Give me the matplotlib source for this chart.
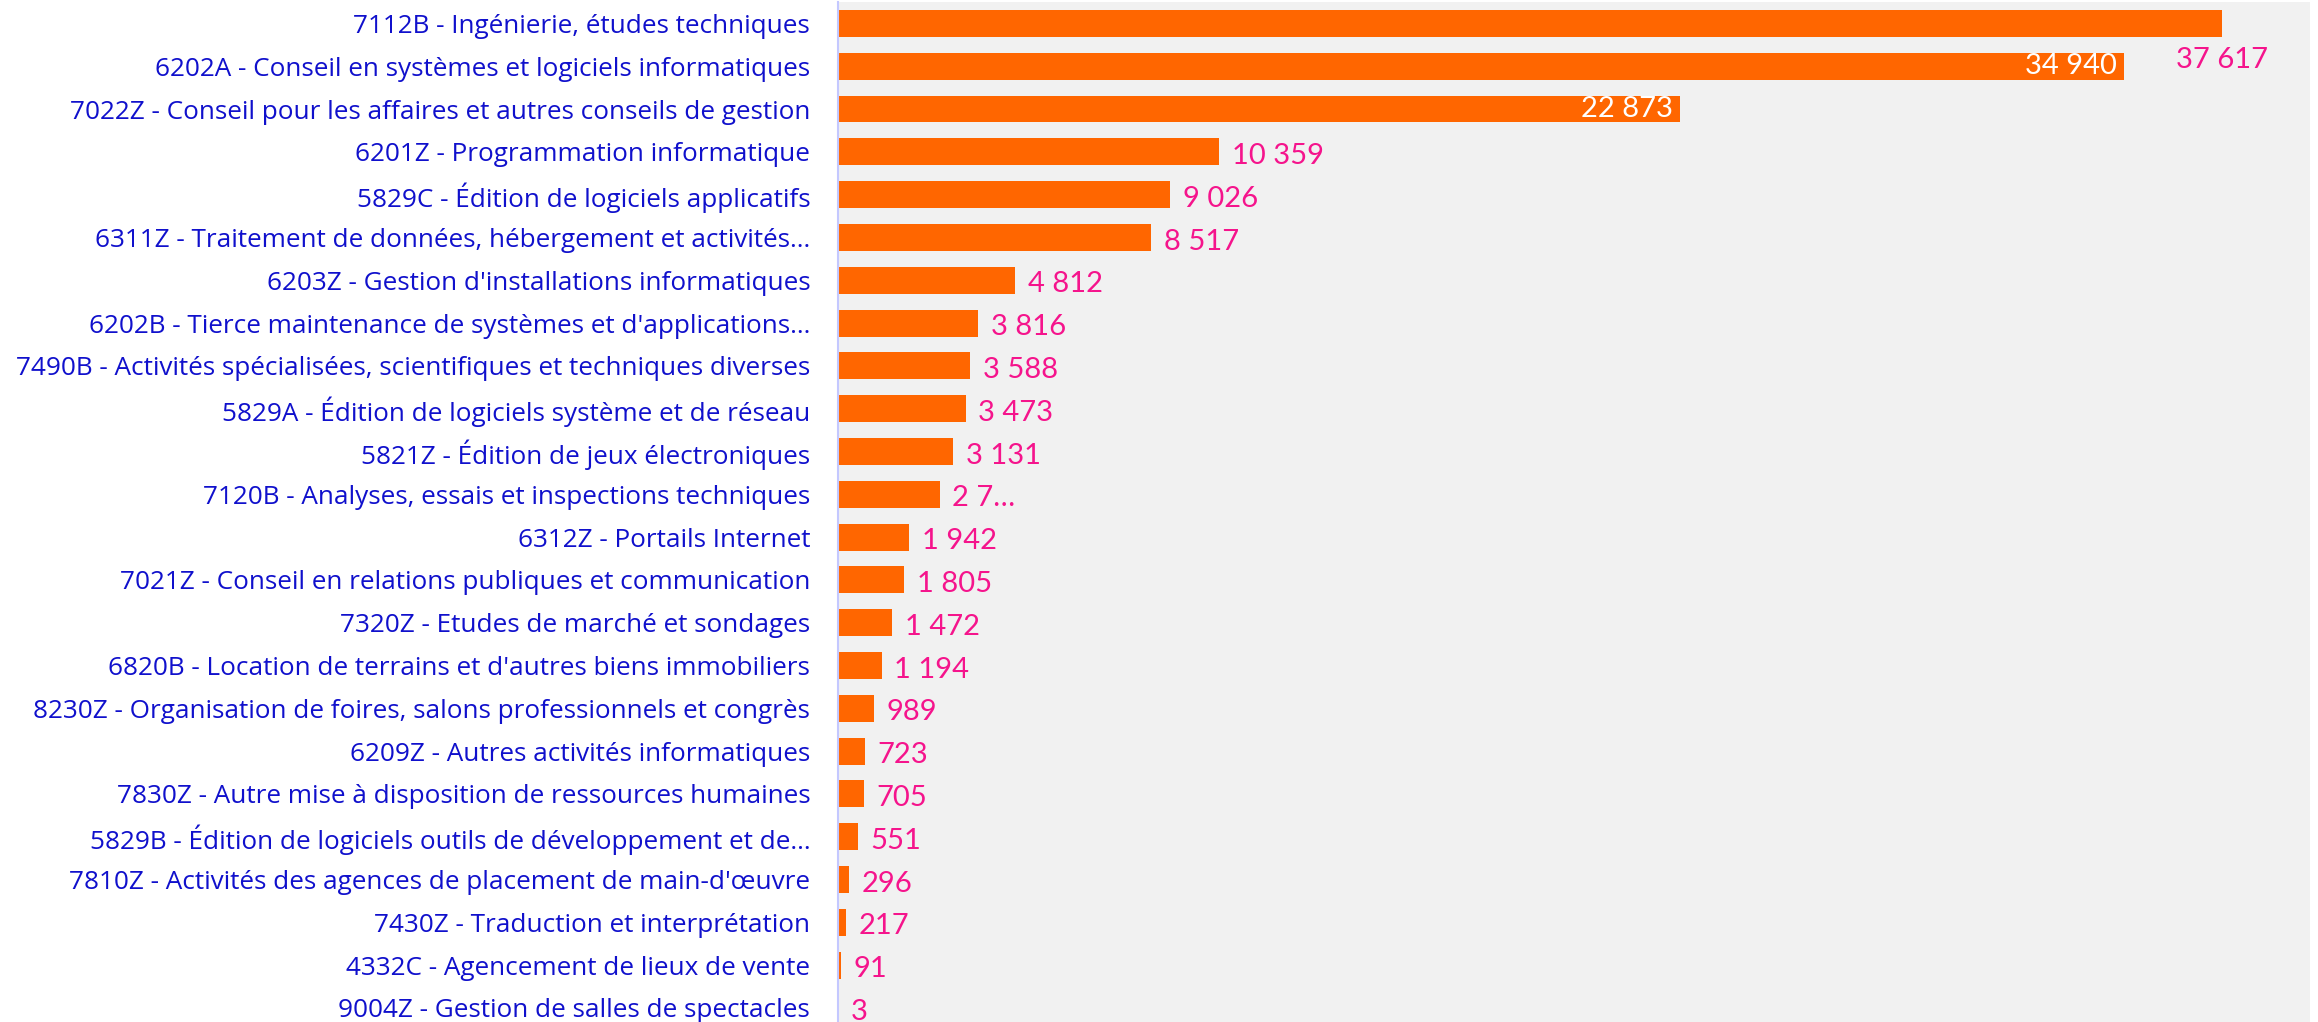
import numpy as np
import matplotlib.pyplot as plt

# NAF codes and counts, top to bottom
codes = ["7112B - Ingénierie, études techniques",
         "6202A - Conseil en systèmes et logiciels informatiques",
         "7022Z - Conseil pour les affaires et autres conseils de gestion",
         "6201Z - Programmation informatique",
         "5829C - Édition de logiciels applicatifs",
         "6311Z - Traitement de données, hébergement et activités…",
         "6203Z - Gestion d'installations informatiques",
         "6202B - Tierce maintenance de systèmes et d'applications…",
         "7490B - Activités spécialisées, scientifiques et techniques diverses",
         "5829A - Édition de logiciels système et de réseau",
         "5821Z - Édition de jeux électroniques",
         "7120B - Analyses, essais et inspections techniques",
         "6312Z - Portails Internet",
         "7021Z - Conseil en relations publiques et communication",
         "7320Z - Etudes de marché et sondages",
         "6820B - Location de terrains et d'autres biens immobiliers",
         "8230Z - Organisation de foires, salons professionnels et congrès",
         "6209Z - Autres activités informatiques",
         "7830Z - Autre mise à disposition de ressources humaines",
         "5829B - Édition de logiciels outils de développement et de…",
         "7810Z - Activités des agences de placement de main-d'œuvre",
         "7430Z - Traduction et interprétation",
         "4332C - Agencement de lieux de vente",
         "9004Z - Gestion de salles de spectacles"]
counts = [37617, 34940, 22873, 10359, 9026, 8517, 4812, 3816, 3588, 3473,
          3131, 2770, 1942, 1805, 1472, 1194, 989, 723, 705, 551, 296, 217, 91, 3]

def fmt(v):
    return f"{v:,}".replace(",", " ")

value_labels = [fmt(v) for v in counts]
value_labels[11] = "2 7…"

plt.rcParams['font.family'] = ['Lato', 'DejaVu Sans']

fig = plt.figure(figsize=(23.18, 10.22), dpi=100)
ax = fig.add_axes([838/2318, 0, 1472/2318, 1 - 2/1022])
ax.set_facecolor('#f1f1f1')

y = np.arange(len(codes))
bars = ax.barh(y, counts, height=0.63, color='#ff6600')

ax.set_xlim(0, 40000)
ax.set_ylim(23.33, -0.5)
ax.set_yticks(y)
ax.set_yticklabels(codes, fontsize=18.8, color='#1010cc', family=['Open Sans', 'DejaVu Sans'])
ax.tick_params(axis='y', length=0, pad=20)
ax.set_xticks([])
for s in ['top', 'right', 'bottom']:
    ax.spines[s].set_visible(False)
ax.spines['left'].set_color('#c4c8ff')
ax.spines['left'].set_linewidth(1.5)

pink = '#f5148c'
for i, (v, lab) in enumerate(zip(counts, value_labels)):
    if i == 0:
        ax.annotate(lab, (v, i), xytext=(0, -26), textcoords='offset points',
                    ha='center', va='center', fontsize=21, color=pink)
    elif v > 20000:
        ax.annotate(lab, (v, i), xytext=(-5, 0), textcoords='offset points',
                    ha='right', va='center', fontsize=21, color='white')
    else:
        ax.annotate(lab, (v, i), xytext=(9, -3), textcoords='offset points',
                    ha='left', va='center', fontsize=21, color=pink)

fig.savefig('out.png', dpi=100)
